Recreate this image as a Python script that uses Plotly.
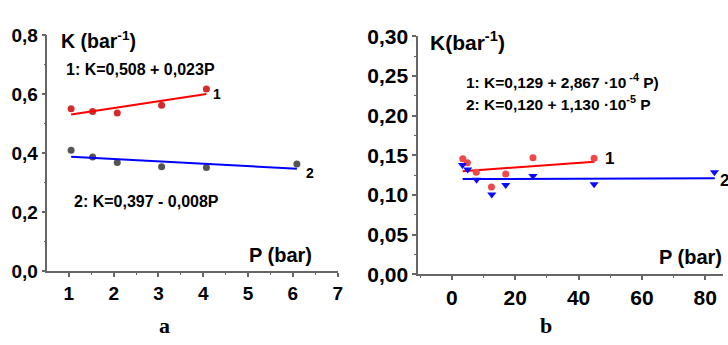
import plotly.graph_objects as go

W, H = 728, 345

# ---- panel a data ----
a_P = [1.05, 1.53, 2.08, 3.07, 4.07]
a_K1 = [0.551, 0.542, 0.537, 0.563, 0.618]
a_P2 = [1.05, 1.53, 2.08, 3.07, 4.07, 6.09]
a_K2 = [0.411, 0.388, 0.369, 0.355, 0.352, 0.364]
a_fit1 = (0.508, 0.023, 1.05, 4.07)     # intercept, slope, x from, x to
a_fit2 = (0.397, -0.008, 1.05, 6.09)

# ---- panel b data ----
b_P1 = [3.45, 4.9, 7.7, 12.5, 17.0, 25.6, 44.9]
b_K1 = [0.1456, 0.1405, 0.1287, 0.110, 0.1264, 0.1468, 0.1461]
b_P2 = [3.35, 5.0, 7.8, 12.6, 17.0, 25.6, 44.9, 82.9]
b_K2 = [0.1378, 0.132, 0.119, 0.1004, 0.1126, 0.124, 0.1134, 0.1287]
b_fit1 = (0.129, 2.867e-4, 3.4, 45.0)
b_fit2 = (0.120, 1.130e-5, 3.4, 83.0)

FONT = "Liberation Sans"
AXC = "#666666"


def px(x):
    return x / W


def py(y):
    return 1 - y / H


def fit_line(f):
    b0, b1, x0, x1 = f
    return [x0, x1], [b0 + b1 * x0, b0 + b1 * x1]


fig = go.Figure()

# panel a
fig.add_trace(go.Scatter(x=a_P, y=a_K1, mode="markers", xaxis="x", yaxis="y",
                         marker=dict(color="#d42a2a", size=7), showlegend=False))
fig.add_trace(go.Scatter(x=a_P2, y=a_K2, mode="markers", xaxis="x", yaxis="y",
                         marker=dict(color="#555555", size=7), showlegend=False))
lx, ly = fit_line(a_fit1)
fig.add_trace(go.Scatter(x=lx, y=ly, mode="lines", xaxis="x", yaxis="y",
                         line=dict(color="#ff0000", width=2), showlegend=False))
lx, ly = fit_line(a_fit2)
fig.add_trace(go.Scatter(x=lx, y=ly, mode="lines", xaxis="x", yaxis="y",
                         line=dict(color="#0000ff", width=2), showlegend=False))

# panel b
lx, ly = fit_line(b_fit1)
fig.add_trace(go.Scatter(x=lx, y=ly, mode="lines", xaxis="x2", yaxis="y2",
                         line=dict(color="#ff0000", width=2), showlegend=False))
lx, ly = fit_line(b_fit2)
fig.add_trace(go.Scatter(x=lx, y=ly, mode="lines", xaxis="x2", yaxis="y2",
                         line=dict(color="#0000ff", width=2), showlegend=False))
fig.add_trace(go.Scatter(x=b_P1, y=b_K1, mode="markers", xaxis="x2", yaxis="y2",
                         marker=dict(color="#f04848", size=7), showlegend=False))
fig.add_trace(go.Scatter(x=b_P2, y=b_K2, mode="markers", xaxis="x2", yaxis="y2",
                         marker=dict(color="#0a0aff", size=8, symbol="triangle-down"),
                         showlegend=False))

axis_common = dict(showline=True, linecolor=AXC, linewidth=1.5, showgrid=False,
                   zeroline=False, ticks="outside", ticklen=4, tickwidth=1.5,
                   tickcolor=AXC)

fig.update_layout(
    width=W, height=H,
    margin=dict(l=0, r=0, t=0, b=0),
    paper_bgcolor="white", plot_bgcolor="white",
    separators=",.",
    showlegend=False,
    xaxis=dict(domain=[px(47.7), px(340)], range=[0.52, 7], anchor="y",
               tickvals=[1, 2, 3, 4, 5, 6, 7],
               tickfont=dict(family=FONT, size=19, color="black", weight="bold"),
               minor=dict(dtick=0.5, tick0=0, ticks="outside", ticklen=2,
                          tickcolor=AXC, tickwidth=1),
               **axis_common),
    yaxis=dict(domain=[py(278), py(25)], range=[0, 0.8], anchor="x",
               dtick=0.2, tickformat=".1f",
               tickfont=dict(family=FONT, size=19, color="black", weight="bold"),
               minor=dict(dtick=0.1, tick0=0, ticks="outside", ticklen=2,
                          tickcolor=AXC, tickwidth=1),
               **axis_common),
    xaxis2=dict(domain=[px(421), 1.0], range=[-10.66, 85.6], anchor="y2",
                tickvals=[0, 20, 40, 60, 80],
                tickfont=dict(family=FONT, size=21, color="black", weight="bold"),
                minor=dict(dtick=10, tick0=0, ticks="outside", ticklen=2,
                           tickcolor=AXC, tickwidth=1),
                **axis_common),
    yaxis2=dict(domain=[py(281), py(26)], range=[0, 0.30], anchor="x2",
                dtick=0.05, tickformat=".2f",
                tickfont=dict(family=FONT, size=21, color="black", weight="bold"),
                minor=dict(dtick=0.025, tick0=0, ticks="outside", ticklen=2,
                           tickcolor=AXC, tickwidth=1),
                **axis_common),
)


def note(text, x, y, size, xanchor="left", family=FONT):
    fig.add_annotation(text=text, x=px(x), y=py(y), xref="paper", yref="paper",
                       xanchor=xanchor, yanchor="middle", showarrow=False,
                       font=dict(family=family, size=size, color="black",
                                 weight="bold"))


# panel a texts
note("K (bar<sup>-1</sup>)", 59, 30, 19.5)
note("1: K=0,508 + 0,023P", 64, 62, 16)
note("2: K=0,397 - 0,008P", 73, 203, 16)
note("P (bar)", 249, 260, 20)
note("1", 218, 88, 14, "center")
note("2", 312, 172, 14, "center")
note("a", 166, 336, 22, "center", "Liberation Serif")

# panel b texts
note("K(bar<sup>-1</sup>)", 431, 31, 21)
note("1: K=0,129 + 2,867 ·10<sup> -4</sup> P)", 467, 74, 15.5)
note("2: K=0,120 + 1,130 ·10<sup>-5</sup> P", 467, 98, 15.5)
note("1", 614, 157, 17, "center")
note("2", 723, 180, 17, "left")
note("P (bar)", 662, 263, 20)
note("b", 550, 336, 22, "center", "Liberation Serif")

fig.write_html("out.html")
